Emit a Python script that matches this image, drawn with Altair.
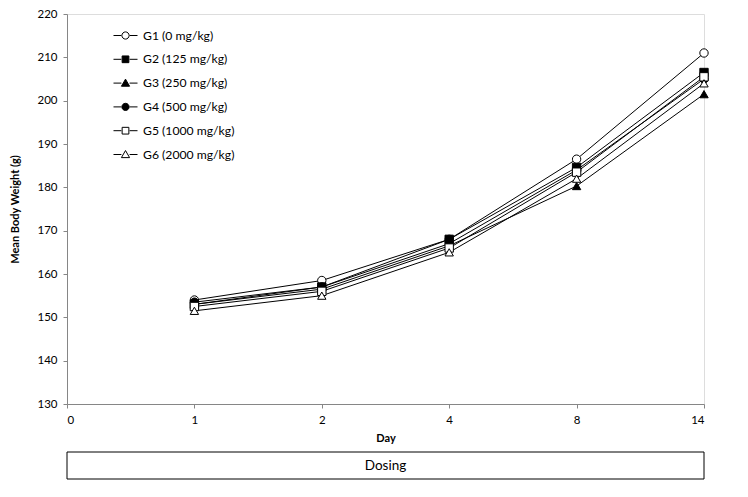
import altair as alt
import pandas as pd

day_labels = ["0", "1", "2", "4", "8", "14"]
day_pos = [1, 2, 3, 4, 5]
groups = ["G1 (0 mg/kg)", "G2 (125 mg/kg)", "G3 (250 mg/kg)",
          "G4 (500 mg/kg)", "G5 (1000 mg/kg)", "G6 (2000 mg/kg)"]
g1 = [154.0, 158.5, 168.0, 186.5, 211.0]
g2 = [153.0, 157.0, 168.0, 184.6, 206.5]
g3 = [153.0, 156.5, 166.5, 180.3, 201.5]
g4 = [153.5, 157.0, 167.0, 184.0, 205.0]
g5 = [152.5, 156.0, 166.0, 183.5, 205.5]
g6 = [151.5, 155.0, 165.0, 182.0, 204.0]
series = [g1, g2, g3, g4, g5, g6]

shapes = ["circle", "square", "triangle-up", "circle", "square", "triangle-up"]
fills = ["white", "black", "black", "black", "white", "white"]

# legend symbols: short line with marker in the middle
seg = "M-1,0H-0.34M0.34,0H1"
circ = "M-0.3,0A0.3,0.3 0 1,0 0.3,0A0.3,0.3 0 1,0 -0.3,0Z"
sq = "M-0.28,-0.28H0.28V0.28H-0.28Z"
tri = "M0,-0.33L0.34,0.26L-0.34,0.26Z"
legend_paths = [seg + circ, seg + sq, seg + tri, seg + circ, seg + sq, seg + tri]

rows = []
for g, vals in zip(groups, series):
    for d, v in zip(day_pos, vals):
        rows.append({"group": g, "day": d, "w": v})
df = pd.DataFrame(rows)

W, H = 637, 390
FONT = "Lato"

label_expr = "[" + ",".join("'%s'" % s for s in day_labels) + "][datum.value]"

x_enc = alt.X("day:Q",
              scale=alt.Scale(domain=[0, 5], nice=False, zero=False),
              axis=alt.Axis(values=[0, 1, 2, 3, 4, 5], labelExpr=label_expr,
                            title="Day", titleFontWeight="bold", titleFontSize=11,
                            titleFont=FONT, titleY=34, titleBaseline="middle",
                            labelFont=FONT, labelFontSize=11.5, labelColor="#000",
                            domainColor="#868686", tickColor="#868686",
                            tickSize=4, labelPadding=6, grid=False))
y_enc = alt.Y("w:Q",
              scale=alt.Scale(domain=[130, 220], nice=False, zero=False),
              axis=alt.Axis(values=list(range(130, 221, 10)),
                            title="Mean Body Weight (g)", titleFontWeight="bold",
                            titleFontSize=11, titleFont=FONT,
                            titleX=-52, titleY=H / 2, titleAngle=270,
                            titleAlign="center", titleBaseline="middle",
                            labelFont=FONT, labelFontSize=11.5, labelColor="#000",
                            domainColor="#868686", tickColor="#868686",
                            tickSize=4, labelPadding=6, grid=False))

base = alt.Chart(df)

lines = base.mark_line(color="black", strokeWidth=1).encode(
    x=x_enc, y=y_enc, detail="group:N", order="day:Q")

point_layers = []
for g, shp, fl in zip(groups, shapes, fills):
    point_layers.append(
        base.transform_filter(alt.datum.group == g).mark_point(
            filled=True, size=70, shape=shp, fill=fl, stroke="black",
            strokeWidth=1, opacity=1).encode(x=x_enc, y=y_enc))

leg = dict(title=None, orient="none", legendX=46, legendY=9,
           labelFont=FONT, labelFontSize=12.2, labelColor="#000",
           symbolSize=576, symbolStrokeWidth=1, symbolStrokeColor="black",
           rowPadding=4.8, labelOffset=5, padding=0)

legend_layer = base.transform_filter("false").mark_point(
    filled=True, strokeWidth=1, opacity=1).encode(
    shape=alt.Shape("group:N", scale=alt.Scale(domain=groups, range=legend_paths),
                    legend=alt.Legend(**leg)),
    fill=alt.Fill("group:N", scale=alt.Scale(domain=groups, range=fills),
                  legend=alt.Legend(**leg)),
    stroke=alt.Stroke("group:N", scale=alt.Scale(domain=groups, range=["black"] * 6),
                      legend=alt.Legend(**leg)))

box_df = pd.DataFrame({"label": ["Dosing"]})
box = alt.Chart(box_df).mark_rect(fill="white", stroke="black", strokeWidth=1).encode(
    x=alt.value(0), x2=alt.value(W), y=alt.value(H + 48), y2=alt.value(H + 75))
box_text = alt.Chart(box_df).mark_text(font=FONT, fontSize=13.5, color="#000",
                                       baseline="middle", align="center").encode(
    x=alt.value(W / 2), y=alt.value(H + 61.5), text="label:N")

chart = alt.layer(lines, *point_layers, legend_layer, box, box_text).properties(
    width=W, height=H,
    autosize=alt.AutoSizeParams(type="none"),
    padding={"left": 59, "top": 6, "right": 30, "bottom": 80},
).configure_view(stroke=None).configure(background="white")

chart.save("out.html", embed_options={"renderer": "svg", "actions": False})
